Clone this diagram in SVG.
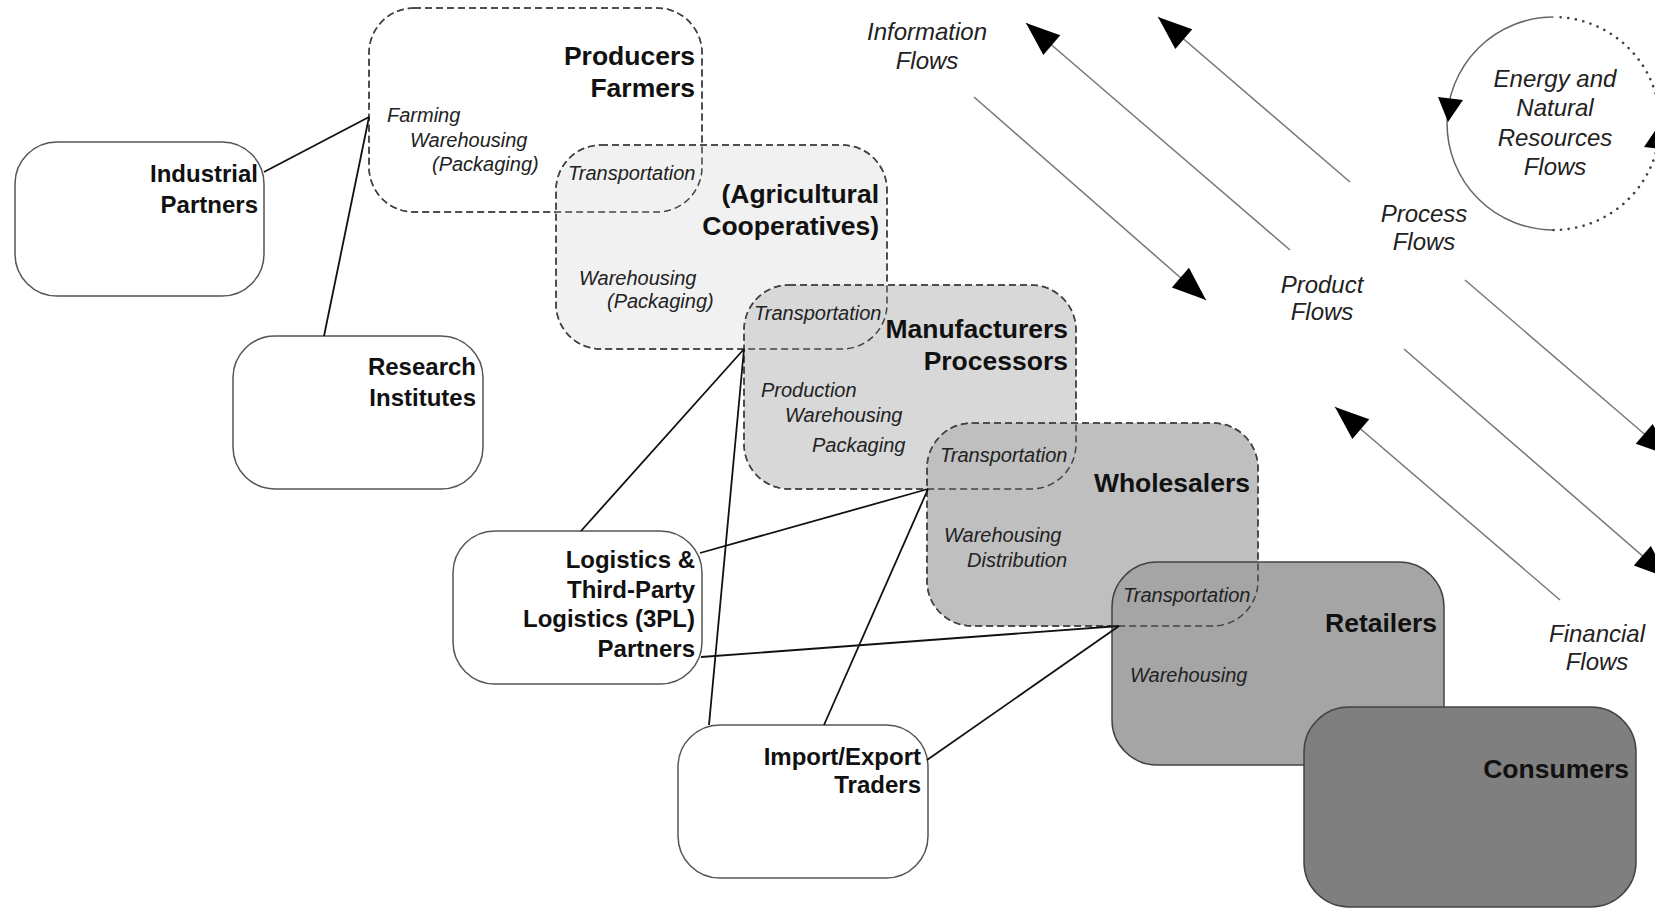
<svg xmlns="http://www.w3.org/2000/svg" width="1655" height="909" viewBox="0 0 1655 909">
<style>
.box{stroke:#444;stroke-width:1.5}
.dash{stroke-dasharray:7 4}
.side{fill:#fff;stroke:#555;stroke-width:1.5}
.name{font-family:"Liberation Sans",Arial,sans-serif;font-weight:bold;fill:#111;text-anchor:end}
.big{font-size:26.5px}
.small{font-size:24px}
.it{font-family:"Liberation Sans",Arial,sans-serif;font-style:italic;font-size:20px;fill:#222}
.flow{font-family:"Liberation Sans",Arial,sans-serif;font-style:italic;font-size:24px;fill:#222;text-anchor:middle}
.conn{stroke:#111;stroke-width:1.8;fill:none}
.farrow{stroke:#777;stroke-width:1.5;fill:none;marker-end:url(#head)}
.outl{fill:none;stroke:#444;stroke-width:1.5;stroke-dasharray:7 4}
</style>
<defs>
<marker id="head" markerUnits="userSpaceOnUse" markerWidth="40" markerHeight="32" viewBox="-36 -16 40 32" refX="0" refY="0" orient="auto">
<path d="M0,0 L-34,-13 L-34,13 Z" fill="#000"/>
</marker>
</defs>
<rect width="1655" height="909" fill="#fff"/>

<g id="industrial-partners">
<rect class="side" x="15" y="142" width="249" height="154" rx="42"/>
<text class="name small" x="258" y="182">Industrial</text>
<text class="name small" x="258" y="213">Partners</text>
</g>
<g id="research-institutes">
<rect class="side" x="233" y="336" width="250" height="153" rx="42"/>
<text class="name small" x="476" y="375">Research</text>
<text class="name small" x="476" y="406">Institutes</text>
</g>
<g id="logistics-partners">
<rect class="side" x="453" y="531" width="249" height="153" rx="42"/>
<text class="name small" x="695" y="568">Logistics &amp;</text>
<text class="name small" x="695" y="598">Third-Party</text>
<text class="name small" x="695" y="627">Logistics (3PL)</text>
<text class="name small" x="695" y="657">Partners</text>
</g>
<g id="import-export-traders">
<rect class="side" x="678" y="725" width="250" height="153" rx="42"/>
<text class="name small" x="921" y="765">Import/Export</text>
<text class="name small" x="921" y="793">Traders</text>
</g>

<g id="producers-farmers">
<rect class="box dash" x="369" y="8" width="333" height="204" rx="45" fill="#fff"/>
<text class="name big" x="695" y="65">Producers</text>
<text class="name big" x="695" y="97">Farmers</text>
<text class="it" x="387" y="122">Farming</text>
<text class="it" x="410" y="147">Warehousing</text>
<text class="it" x="432" y="171">(Packaging)</text>
</g>
<g id="agricultural-cooperatives">
<rect class="box dash" x="556" y="145" width="331" height="204" rx="45" fill="#f1f1f1"/>
<text class="name big" x="879" y="203">(Agricultural</text>
<text class="name big" x="879" y="235">Cooperatives)</text>
<text class="it" x="568" y="180">Transportation</text>
<text class="it" x="579" y="285">Warehousing</text>
<text class="it" x="607" y="308">(Packaging)</text>
</g>
<g id="manufacturers-processors">
<rect class="box dash" x="744" y="285" width="332" height="204" rx="45" fill="#d8d8d8"/>
<text class="name big" x="1068" y="338">Manufacturers</text>
<text class="name big" x="1068" y="370">Processors</text>
<text class="it" x="754" y="320">Transportation</text>
<text class="it" x="761" y="397">Production</text>
<text class="it" x="785" y="422">Warehousing</text>
<text class="it" x="812" y="452">Packaging</text>
</g>
<g id="wholesalers">
<rect class="box dash" x="927" y="423" width="331" height="203" rx="45" fill="#bfbfbf"/>
<text class="name big" x="1250" y="492">Wholesalers</text>
<text class="it" x="940" y="462">Transportation</text>
<text class="it" x="944" y="542">Warehousing</text>
<text class="it" x="967" y="567">Distribution</text>
</g>
<g id="retailers">
<rect class="box" x="1112" y="562" width="332" height="203" rx="45" fill="#a5a5a5" stroke="#555"/>
<text class="name big" x="1437" y="632">Retailers</text>
<text class="it" x="1123" y="602">Transportation</text>
<text class="it" x="1130" y="682">Warehousing</text>
</g>

<g id="overlap-outlines">
<rect class="outl" x="369" y="8" width="333" height="204" rx="45"/>
<rect class="outl" x="556" y="145" width="331" height="204" rx="45"/>
<rect class="outl" x="744" y="285" width="332" height="204" rx="45"/>
<rect class="outl" x="927" y="423" width="331" height="203" rx="45"/>
</g>

<g id="consumers">
<rect x="1304" y="707" width="332" height="200" rx="45" fill="#7f7f7f" stroke="#444" stroke-width="1.5"/>
<text class="name big" x="1629" y="778">Consumers</text>
</g>

<g id="connectors">
<line class="conn" x1="264" y1="172" x2="369" y2="117"/>
<line class="conn" x1="324" y1="336" x2="369" y2="117"/>
<line class="conn" x1="744" y1="349" x2="581" y2="531"/>
<line class="conn" x1="744" y1="349" x2="709" y2="725"/>
<line class="conn" x1="928" y1="489" x2="700" y2="553"/>
<line class="conn" x1="928" y1="489" x2="824" y2="725"/>
<line class="conn" x1="1119" y1="626" x2="701" y2="657"/>
<line class="conn" x1="1119" y1="626" x2="927" y2="760"/>
</g>

<g id="flow-arrows">
<path class="farrow" d="M974,97 L1206,300"/>
<path class="farrow" d="M1290,250 L1026,23"/>
<path class="farrow" d="M1350,182 L1158,17"/>
<path class="farrow" d="M1465,280 L1670,456"/>
<path class="farrow" d="M1404,349 L1668,578"/>
<path class="farrow" d="M1560,600 L1335,407"/>
</g>

<g id="energy-cycle">
<path d="M1553.5,17 A106.5,106.5 0 0 0 1553.5,230" fill="none" stroke="#666" stroke-width="1.5"/>
<path d="M1553.5,230 A106.5,106.5 0 0 0 1553.5,17" fill="none" stroke="#444" stroke-width="2.6" stroke-dasharray="0.1 7.5" stroke-linecap="round"/>
<polygon points="1438,97 1463,100 1448,122" fill="#000"/>
<polygon points="1669,150 1644,147 1659,125" fill="#000"/>
</g>

<g id="flow-labels">
<text class="flow" x="927" y="40">Information</text>
<text class="flow" x="927" y="69">Flows</text>
<text class="flow" x="1555" y="87">Energy and</text>
<text class="flow" x="1555" y="116">Natural</text>
<text class="flow" x="1555" y="146">Resources</text>
<text class="flow" x="1555" y="175">Flows</text>
<text class="flow" x="1424" y="222">Process</text>
<text class="flow" x="1424" y="250">Flows</text>
<text class="flow" x="1322" y="293">Product</text>
<text class="flow" x="1322" y="320">Flows</text>
<text class="flow" x="1597" y="642">Financial</text>
<text class="flow" x="1597" y="670">Flows</text>
</g>
</svg>
